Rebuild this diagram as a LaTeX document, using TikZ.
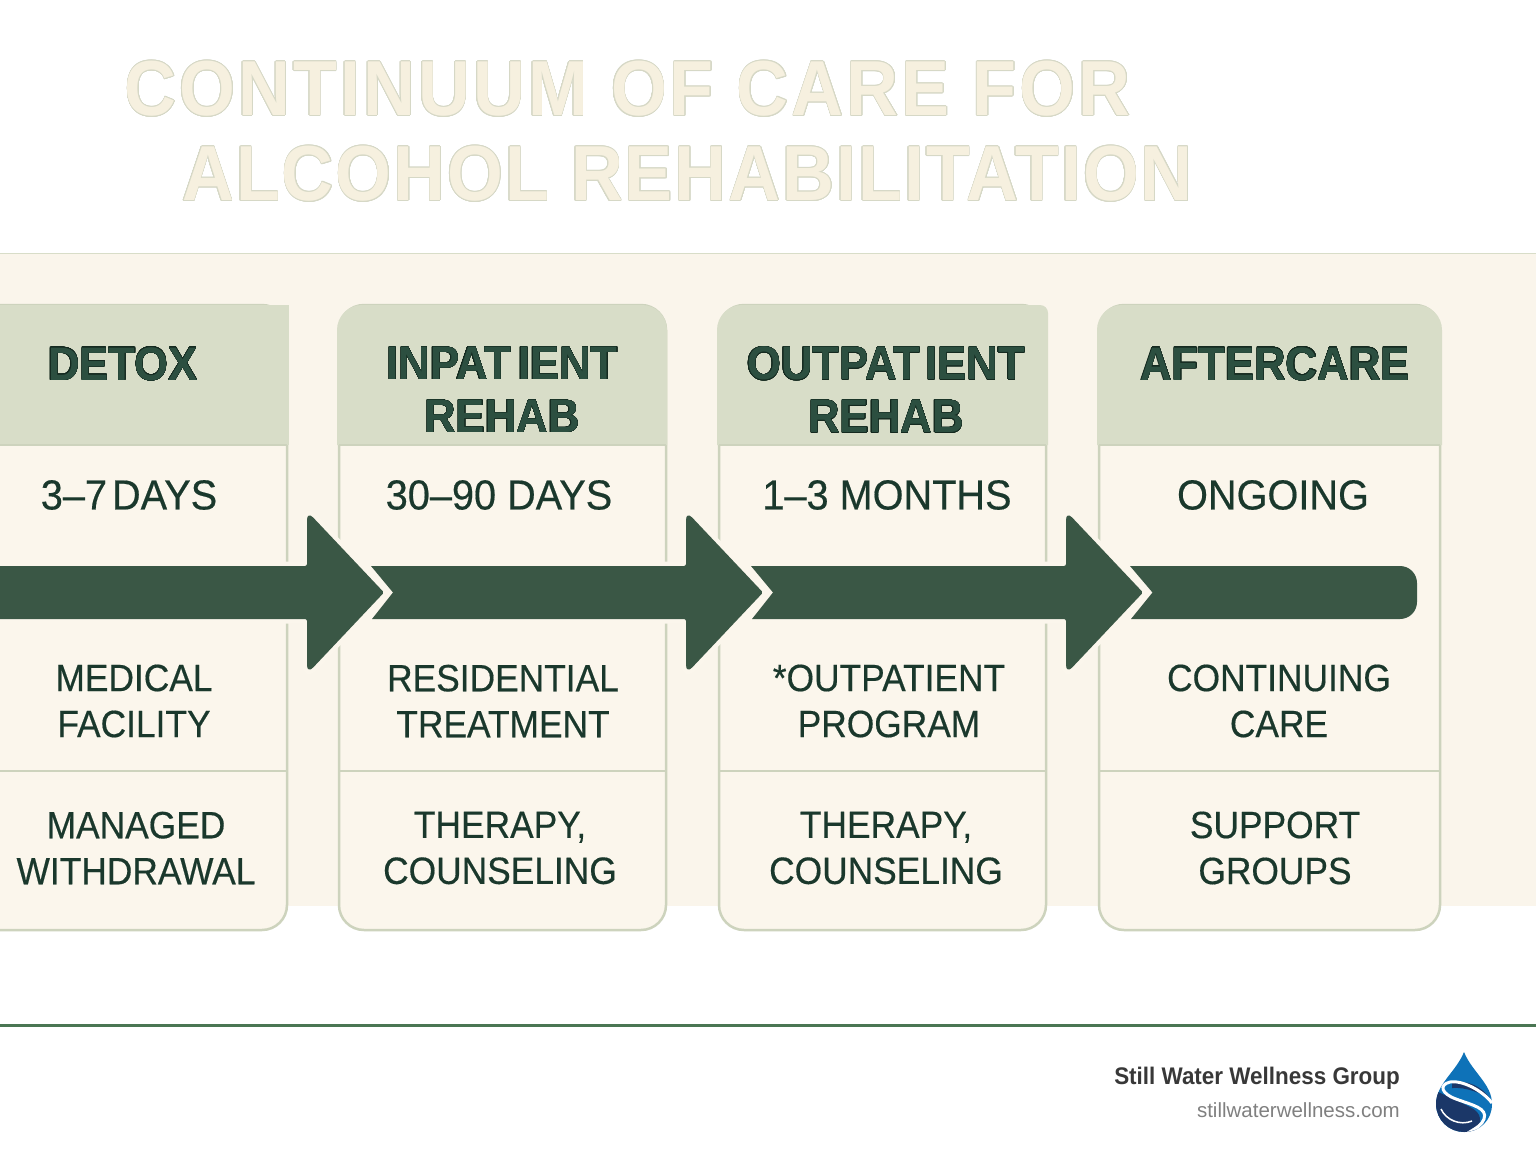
\documentclass[tikz,border=0pt]{standalone}
\usepackage{fontspec}
\usepackage[copies]{contour}
\setmainfont{Liberation Sans}
\newfontfamily\headfont[FakeStretch=0.93]{Liberation Sans}
\newfontfamily\timefont[FakeStretch=0.945,FakeBold=0.4]{Liberation Sans}
\newfontfamily\bodyfont[FakeStretch=0.93,FakeBold=0.4]{Liberation Sans}
\newfontfamily\titlefont[FakeStretch=0.92,LetterSpace=4]{Liberation Sans}
\newfontfamily\footfont[FakeStretch=0.935]{Liberation Sans}
\definecolor{creamband}{HTML}{FAF5EB}
\definecolor{creamcard}{HTML}{FBF6EC}
\definecolor{sagehead}{HTML}{D8DDC8}
\definecolor{sageline}{HTML}{CDD3BD}
\definecolor{inkgreen}{HTML}{1A382C}
\definecolor{inkdark}{HTML}{14291F}
\definecolor{headgreen}{HTML}{2C4F40}
\definecolor{arrowgreen}{HTML}{3A5745}
\definecolor{rulegreen}{HTML}{4A7653}
\definecolor{titlefill}{HTML}{F6F0DF}
\definecolor{titleline}{HTML}{D6D8C6}
\definecolor{dropblue}{HTML}{0E72B8}
\definecolor{dropnavy}{HTML}{1B3768}
\tikzset{
  cardbox/.style={draw=sageline, line width=2.5pt, fill=creamcard},
  headbox/.style={fill=sagehead},
  flowarrow/.style={fill=arrowgreen, preaction={draw=creamcard, line width=9pt}},
  headtext/.style={headgreen, font=\headfont\bfseries\fontsize{47}{53}\selectfont, align=center, inner sep=0pt},
  timetext/.style={inkgreen, font=\timefont\fontsize{42}{46}\selectfont, inner sep=0pt},
  celltext/.style={inkgreen, font=\bodyfont\fontsize{38}{46}\selectfont, align=center, inner sep=0pt},
  titletext/.style={titlefill, font=\titlefont\bfseries\fontsize{78}{85}\selectfont, inner sep=0pt}
}
\contournumber{24}
\begin{document}
\begin{tikzpicture}[x=1pt,y=-1pt]
\useasboundingbox (0,0) rectangle (1536,1154);
\clip (0,0) rectangle (1536,1154);
\fill[white] (0,0) rectangle (1536,1154);
% band behind the cards
\fill[creamband] (0,253) rectangle (1536,906);
\draw[sagehead, line width=.6pt] (0,253) -- (1536,253);
% title
\contourlength{.6pt}
\node[titletext] (titleone) at (627.5,89) {\contour{titleline}{CONTINUUM OF CARE FOR}};
\node[titletext] (titletwo) at (687.5,174) {\addfontfeature{LetterSpace=2.6}\contour{titleline}{ALCOHOL REHABILITATION}};
% cards
\draw[cardbox, rounded corners=25pt] (-50,305) rectangle (287,930);
\draw[cardbox, rounded corners=25pt] (339,305) rectangle (666,930);
\draw[cardbox, rounded corners=25pt] (719,305) rectangle (1046,930);
\draw[cardbox, rounded corners=25pt] (1099,305) rectangle (1440,930);
% card heads
\fill[headbox] (-50,305) rectangle (289,445);
\fill[headbox] (337,445) [rounded corners=25pt] -- (337,305) -- (667,305) [sharp corners] -- (667,445) -- cycle;
\fill[headbox] (717,445) [rounded corners=25pt] -- (717,305) [rounded corners=8pt] -- (1048,305) [sharp corners] -- (1048,445) -- cycle;
\fill[headbox] (1097,445) [rounded corners=25pt] -- (1097,305) -- (1442,305) [sharp corners] -- (1442,445) -- cycle;
% dividers
\draw[sageline, line width=2pt] (-50,445) -- (287,445) (339,445) -- (666,445) (719,445) -- (1046,445) (1099,445) -- (1440,445);
\draw[sageline, line width=2.5pt] (-50,771) -- (287,771) (339,771) -- (666,771) (719,771) -- (1046,771) (1099,771) -- (1440,771);
% arrows, last one first
\path[flowarrow] (1130,566) [rounded corners=17pt] -- (1417,566) -- (1417,619) [sharp corners] -- (1131,619) -- (1152.5,592.5) -- cycle;
\path[flowarrow] (751,566) [rounded corners=2pt] -- (1066,566) [rounded corners=9pt] -- (1066,511) [rounded corners=1.5pt] -- (1143,592.5) [rounded corners=9pt] -- (1066,674) [rounded corners=2pt] -- (1066,619) [sharp corners] -- (752,619) -- (773,592.5) -- cycle;
\path[flowarrow] (371,566) [rounded corners=2pt] -- (686,566) [rounded corners=9pt] -- (686,511) [rounded corners=1.5pt] -- (763,592.5) [rounded corners=9pt] -- (686,674) [rounded corners=2pt] -- (686,619) [sharp corners] -- (372,619) -- (393,592.5) -- cycle;
\path[flowarrow] (-20,566) [rounded corners=2pt] -- (307,566) [rounded corners=9pt] -- (307,511) [rounded corners=1.5pt] -- (384,592.5) [rounded corners=9pt] -- (307,674) [rounded corners=2pt] -- (307,619) [sharp corners] -- (-20,619) -- cycle;
% card texts
\contourlength{.25pt}
\node[headtext] (detox) at (123,364) {\contour{inkdark}{DETOX}};
\node[headtext] (inpatient) at (502,390) {\contour{inkdark}{INPAT\kern7pt IENT}\\\contour{inkdark}{REHAB}};
\node[headtext] (outpatient) at (886,390) {\contour{inkdark}{OUTPAT\kern5pt IENT}\\\contour{inkdark}{REHAB}};
\node[headtext] (aftercare) at (1275,364) {\contour{inkdark}{AFTERCARE}};
\node[timetext] (detoxtime) at (129,495) {3–7\kern-6pt{} DAYS};
\node[timetext] (inpatienttime) at (499,495) {30–90 DAYS};
\node[timetext] (outpatienttime) at (887,495) {1–3 MONTHS};
\node[timetext] (aftercaretime) at (1273,495) {ONGOING};
\node[celltext] (detoxplace) at (134,701) {MEDICAL\\FACILITY};
\node[celltext] (inpatientplace) at (503,701) {RESIDENTIAL\\TREATMENT};
\node[celltext] (outpatientplace) at (889,701) {*OUTPATIENT\\PROGRAM};
\node[celltext] (aftercareplace) at (1279,701) {CONTINUING\\CARE};
\node[celltext] (detoxcare) at (136,848) {MANAGED\\WITHDRAWAL};
\node[celltext] (inpatientcare) at (500,848) {THERAPY,\\COUNSELING};
\node[celltext] (outpatientcare) at (886,848) {THERAPY,\\COUNSELING};
\node[celltext] (aftercarecare) at (1275,848) {SUPPORT\\GROUPS};
% footer
\draw[rulegreen, line width=3pt] (0,1025) -- (1536,1025);
\node[anchor=east, inner sep=0pt, text=black!78, font=\footfont\bfseries\fontsize{24}{24}\selectfont] (groupname) at (1400,1078) {Still Water Wellness Group};
\node[anchor=east, inner sep=0pt, text=black!50, font=\fontsize{20.5}{21}\selectfont] (groupsite) at (1400,1110) {stillwaterwellness.com};
% logo
\begin{scope}
\path[clip] (1464,1052) .. controls (1456,1072) and (1436,1084) .. (1436,1104) .. controls (1436,1120) and (1449,1132) .. (1464,1132) .. controls (1480,1132) and (1492,1120) .. (1492,1104) .. controls (1492,1084) and (1472,1072) .. (1464,1052) -- cycle;
\fill[dropblue] (1430,1050) rectangle (1500,1135);
\fill[dropnavy] (1430,1088) .. controls (1446,1096) and (1456,1100) .. (1470,1107) .. controls (1482,1113) and (1484,1122) .. (1472,1135) -- (1430,1135) -- cycle;
\fill[dropnavy] (1452,1082) .. controls (1468,1080) and (1482,1086) .. (1491,1100) .. controls (1482,1093) and (1466,1087) .. (1452,1088) -- cycle;
\draw[white, line width=3pt] (1492,1103) .. controls (1482,1090) and (1462,1080) .. (1450,1082) .. controls (1438,1085) and (1442,1094) .. (1456,1099) .. controls (1472,1105) and (1488,1108) .. (1484,1119) .. controls (1482,1125) and (1476,1128) .. (1468,1133);
\draw[white, line width=1.5pt] (1441,1109) .. controls (1446,1120) and (1460,1126) .. (1472,1121);
\end{scope}
\end{tikzpicture}
\end{document}
